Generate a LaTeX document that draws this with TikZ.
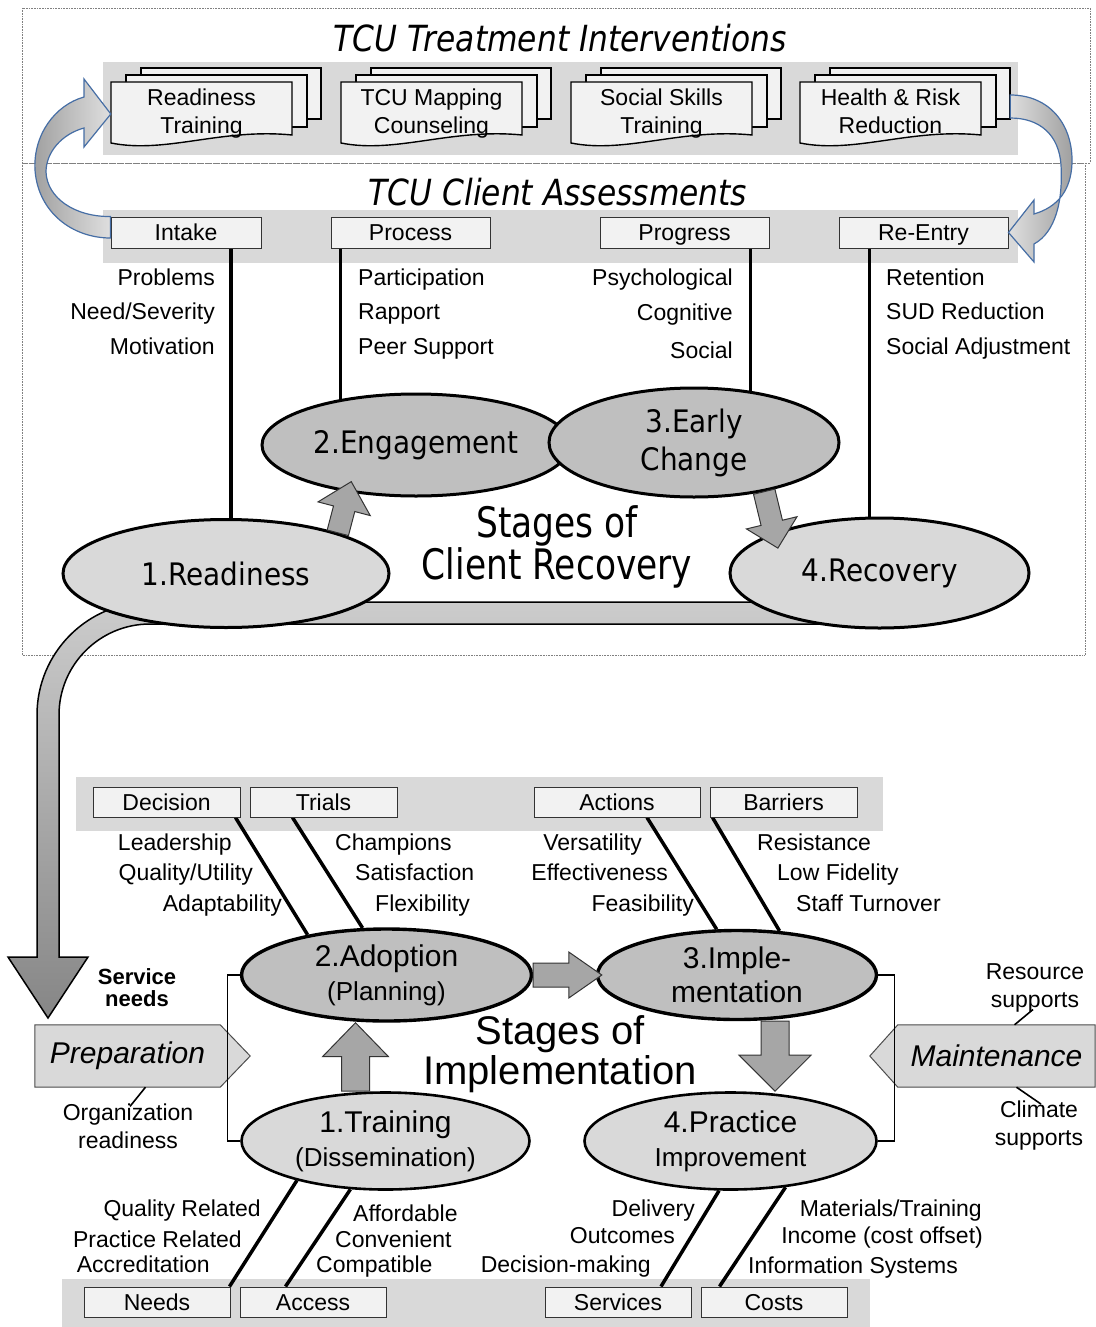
\documentclass[tikz,border=0pt]{standalone}
\usepackage{fontspec}
\setmainfont{Liberation Sans}
\newfontfamily\stagefont[FakeStretch=0.9]{DejaVu Sans}
\newfontfamily\titlefont[FakeStretch=0.82]{DejaVu Sans}
\newfontfamily\headfont[FakeStretch=0.87]{DejaVu Sans}
\usepackage{tikz}
\usetikzlibrary{shapes.geometric, calc, backgrounds}
\definecolor{bandgray}{RGB}{217,217,217}
\definecolor{lightstage}{RGB}{217,217,217}
\definecolor{darkstage}{RGB}{191,191,191}
\definecolor{arrowgray}{RGB}{166,166,166}
\definecolor{pagefill}{RGB}{242,242,242}
\definecolor{bendblue}{RGB}{70,110,165}
\newcommand{\setfs}[2]{\fontsize{#1}{#2}\selectfont}
% stack of three pages with a wavy front page
\newcommand{\docstack}[4]{%
  \draw[docpage] (#2+30,-#3+14) rectangle (#2+210,-#3-37);
  \draw[docpage] (#2+15,-#3+7) rectangle (#2+196,-#3-45);
  \draw[docpage] (#2,-#3) -- (#2+181,-#3) -- (#2+181,-#3-53)
    .. controls (#2+110,-#3-46) and (#2+55,-#3-72) .. (#2,-#3-61) -- cycle;
  \node[doclabel] (#1) at (#2+90.5,-#3-32) {#4};}
% fat block arrow: from, to, shaft half width, head half width, head length
\newcommand{\blockarrow}[5]{%
  \draw[blockfill] let \p1=(#1), \p2=(#2),
      \n1={atan2(\y2-\y1,\x2-\x1)}, \n2={veclen(\x2-\x1,\y2-\y1)-#5} in
    ($(\p1)+(\n1+90:#3)$) -- ($(\p1)+(\n1:\n2)+(\n1+90:#3)$)
    -- ($(\p1)+(\n1:\n2)+(\n1+90:#4)$) -- (\p2)
    -- ($(\p1)+(\n1:\n2)+(\n1-90:#4)$) -- ($(\p1)+(\n1:\n2)+(\n1-90:#3)$)
    -- ($(\p1)+(\n1-90:#3)$) -- cycle;}

\begin{document}
\begin{tikzpicture}[x=1pt, y=1pt,
  band/.style={fill=bandgray},
  dotframe/.style={densely dotted, gray, line width=.6pt},
  docpage/.style={draw=black, line width=1.4pt, fill=pagefill},
  doclabel/.style={align=center, minimum width=181, inner sep=0, font=\setfs{23}{28}},
  tagbox/.style={draw=gray!40!black, fill=pagefill, line width=1pt, inner sep=0,
    minimum height=31, text height=16pt, text depth=0pt, font=\setfs{23}{28}},
  lbl/.style={inner sep=0, font=\setfs{23}{28}},
  stage/.style={ellipse, draw=black, line width=3pt, inner sep=0, align=center},
  toplabel/.style={font=\stagefont\setfs{31}{38}},
  botlabel/.style={font=\setfs{30}{34}},
  stemline/.style={line width=3.5pt},
  leaderline/.style={line width=1.6pt},
  bracketline/.style={line width=1.2pt},
  phasebox/.style={inner sep=0, minimum height=62, font=\itshape\setfs{30}{36}},
  phaseline/.style={draw=gray!60!black, line width=1pt, fill=bandgray},
  blockfill/.style={fill=arrowgray, draw=gray!40!black, line width=1pt},
  bigarrow/.style={draw=black, line width=1.5pt, top color=gray!40, bottom color=gray!95},
  bendarrow/.style={draw=bendblue, line width=1.2pt}]
\useasboundingbox (0,0) rectangle (1095,-1327);

% ---- treatment interventions
\node[font=\headfont\itshape\setfs{36}{40}] (treattitle) at (560,-38) {TCU Treatment Interventions};
\docstack{rtrain}{111}{82}{Readiness\\Training}
\docstack{mapcoun}{341}{82}{TCU Mapping\\Counseling}
\docstack{socskill}{571}{82}{Social Skills\\Training}
\docstack{healthrisk}{800}{82}{Health \& Risk\\Reduction\vphantom{g}}

% ---- client assessments
\node[font=\headfont\itshape\setfs{36}{40}] (assesstitle) at (558,-192) {TCU Client Assessments};
\node[tagbox, minimum width=150] (intake) at (186,-232.5) {Intake};
\node[tagbox, minimum width=159] (process) at (410.5,-232.5) {Process};
\node[tagbox, minimum width=169] (progress) at (684.5,-232.5) {Progress};
\node[tagbox, minimum width=169] (reentry) at (923.5,-232.5) {Re-Entry};

\node[lbl, anchor=base east] (problems) at (215,-285) {Problems};
\node[lbl, anchor=base east] (needsev) at (215,-319.5) {Need/Severity};
\node[lbl, anchor=base east] (motivation) at (215,-354) {Motivation};
\node[lbl, anchor=base west] (particip) at (358,-285) {Participation};
\node[lbl, anchor=base west] (rapport) at (358,-319.5) {Rapport};
\node[lbl, anchor=base west] (peersup) at (358,-354) {Peer Support};
\node[lbl, anchor=base east] (psycho) at (733,-285) {Psychological};
\node[lbl, anchor=base east] (cognitive) at (733,-320) {Cognitive};
\node[lbl, anchor=base east] (social) at (733,-358) {Social};
\node[lbl, anchor=base west] (retention) at (886,-285) {Retention};
\node[lbl, anchor=base west] (sudred) at (886,-319.5) {SUD Reduction};
\node[lbl, anchor=base west] (socadj) at (886,-354) {Social Adjustment};

% ---- stages of client recovery
\node[stage, fill=lightstage, minimum width=326, minimum height=108, toplabel] (readiness) at (226,-573.5) {1.Readiness};
\node[stage, fill=darkstage, minimum width=308, minimum height=102, toplabel] (engagement) at (416,-445) {2.Engagement};
\node[stage, fill=darkstage, minimum width=290, minimum height=109, toplabel] (earlychange) at (694,-442.5) {3.Early\\Change};
\node[stage, fill=lightstage, minimum width=299, minimum height=110, toplabel] (recovery) at (879.5,-573) {4.Recovery};
\node[align=center, font=\titlefont\setfs{42}{42}] (recovtitle) at (557,-547) {Stages of\\Client Recovery};

\coordinate (engtip) at ($(engagement.215)!-11pt!(readiness.20)$);
\blockarrow{readiness.20}{engtip}{11}{27}{28}
\coordinate (rectip) at ($(recovery.159)!-16pt!(earlychange.325)$);
\blockarrow{earlychange.325}{rectip}{11}{26}{26}

% ---- stages of implementation
\node[tagbox, minimum width=147, minimum height=30] (decision) at (166.5,-802) {Decision};
\node[tagbox, minimum width=147, minimum height=30] (trials) at (323.5,-802) {Trials};
\node[tagbox, minimum width=166, minimum height=30] (actions) at (617,-802) {Actions};
\node[tagbox, minimum width=147, minimum height=30] (barriers) at (783.5,-802) {Barriers};

\node[lbl, anchor=base east] (leadership) at (232,-850) {Leadership};
\node[lbl, anchor=base east] (qualutil) at (253,-880) {Quality/Utility};
\node[lbl, anchor=base east] (adaptab) at (282,-911) {Adaptability};
\node[lbl, anchor=base west] (champions) at (335,-850) {Champions};
\node[lbl, anchor=base west] (satisf) at (355,-880) {Satisfaction};
\node[lbl, anchor=base west] (flexib) at (375,-911) {Flexibility};
\node[lbl, anchor=base east] (versat) at (642,-850) {Versatility};
\node[lbl, anchor=base east] (effect) at (668,-880) {Effectiveness};
\node[lbl, anchor=base east] (feasib) at (694,-911) {Feasibility};
\node[lbl, anchor=base west] (resist) at (757,-850) {Resistance};
\node[lbl, anchor=base west] (lowfid) at (777,-880) {Low Fidelity};
\node[lbl, anchor=base west] (staffturn) at (796,-911) {Staff Turnover};

\node[stage, fill=darkstage, line width=3.4pt, minimum width=290, minimum height=92, botlabel] (adoption) at (386.5,-975) {2.Adoption\\{\setfs{26}{30}(Planning)}};
\node[stage, fill=darkstage, line width=3.4pt, minimum width=279, minimum height=89, botlabel] (implementation) at (737,-975) {3.Imple-\\mentation};
\node[stage, fill=lightstage, line width=2.6pt, minimum width=288, minimum height=97, botlabel] (training) at (385.5,-1141) {1.Training\\{\setfs{26}{30}(Dissemination)}};
\node[stage, fill=lightstage, line width=2.6pt, minimum width=292, minimum height=97, botlabel] (practice) at (730.5,-1141) {4.Practice\\{\setfs{26}{30}Improvement}};
\node[align=center, font=\setfs{40}{40}] (impltitle) at (560,-1054) {Stages of\\Implementation};

\coordinate (imptip) at ($(implementation.west)+(6,0)$);
\blockarrow{adoption.east}{imptip |- adoption.east}{12}{23}{33}
\coordinate (trbase) at ($(training.north)+(-30,0)$);
\blockarrow{trbase}{trbase |- adoption.south}{14}{33}{34}
\coordinate (imbase) at ($(implementation.south)+(38,0)$);
\blockarrow{imbase}{imbase |- practice.north}{14}{36}{36}

\node[align=center, font=\bfseries\setfs{22}{22}, inner sep=0] (servneeds) at (137,-988) {Service\\needs};
\node[phasebox, minimum width=185] (preparation) at (127.5,-1056) {Preparation};
\node[phasebox, minimum width=197] (maintenance) at (996.5,-1056) {Maintenance};
\node[lbl, align=center] (orgready) at (128,-1126) {Organization\\readiness};
\node[lbl, align=center] (resource) at (1035,-988) {Resource\\supports};
\node[lbl, align=center] (climate) at (1039,-1126) {Climate\\supports};

\node[tagbox, minimum width=146, minimum height=30] (needs) at (157,-1302) {Needs};
\node[tagbox, minimum width=146, minimum height=30] (access) at (313,-1302) {Access};
\node[tagbox, minimum width=146, minimum height=30] (services) at (618,-1302) {Services};
\node[tagbox, minimum width=146, minimum height=30] (costs) at (774,-1302) {Costs};

\node[lbl, anchor=base east] (qualrel) at (261,-1216) {Quality Related};
\node[lbl, anchor=base east] (pracrel) at (242,-1247) {Practice Related};
\node[lbl, anchor=base east] (accred) at (210,-1272) {Accreditation};
\node[lbl, anchor=base west] (afford) at (353,-1221) {Affordable};
\node[lbl, anchor=base west] (conven) at (335,-1247) {Convenient};
\node[lbl, anchor=base west] (compat) at (316,-1272) {Compatible};
\node[lbl, anchor=base east] (delivery) at (695,-1216) {Delivery};
\node[lbl, anchor=base east] (outcomes) at (675,-1243) {Outcomes};
\node[lbl, anchor=base east] (decmaking) at (651,-1272) {Decision-making};
\node[lbl, anchor=base east] (materials) at (982,-1216) {Materials/Training};
\node[lbl, anchor=base east] (income) at (983,-1243) {Income (cost offset)};
\node[lbl, anchor=base west] (infosys) at (748,-1273) {Information Systems};

% ---- bent arrows between interventions and assessments
\draw[bendarrow, left color=gray!75, right color=gray!25]
  ([yshift=-5.5]intake.west) .. controls (72,-238) and (38,-212) .. (35,-170)
  .. controls (33,-135) and (55,-105) .. (84,-97) -- (84,-79) -- (rtrain.west)
  -- (84,-147) -- (84,-128) .. controls (62,-134) and (46,-152) .. (46,-172)
  .. controls (47,-198) and (75,-217) .. (intake.north west) -- cycle;
\draw[bendarrow, left color=gray!25, right color=gray!75]
  ([xshift=29,yshift=19]healthrisk.east) .. controls (1050,-95) and (1073,-125) .. (1072,-163)
  .. controls (1071,-190) and (1058,-207) .. (1034,-214) -- (1034,-200) -- (reentry.east)
  -- (1034,-262) -- (1034,-244) .. controls (1056,-232) and (1063,-200) .. (1061,-165)
  .. controls (1059,-135) and (1040,-118) .. ([xshift=29,yshift=-4]healthrisk.east) -- cycle;

\coordinate (servtip) at (48,-1018);
\coordinate (ia) at ($(intake.south)+(45,0)$);
\coordinate (pa) at ($(process.south west)+(10,0)$);
\coordinate (ga) at ($(progress.south east)+(-19,0)$);
\coordinate (ra) at ($(reentry.south west)+(31,0)$);

\begin{pgfonlayer}{background}
\fill[white] (0,0) rectangle (1095,-1327);
\draw[dotframe] (22,-8) rectangle (1090,-163);
\draw[dotframe] (22,-163) rectangle (1085,-655);
\fill[band] (103,-62) rectangle (1018,-155);
\fill[band] (103,-210) rectangle (1018,-263);
\fill[band] (76,-777) rectangle (883,-831);
\fill[band] (62,-1279) rectangle (870,-1327);

% big arrow from recovery down to preparation
\draw[bigarrow] (recovery.center |- 0,-602) -- (150,-602) arc[start angle=90, end angle=180, radius=113]
  -- (37,-957) -- (8,-957) -- (servtip) -- (88,-957) -- (59,-957) -- (59,-715)
  arc[start angle=180, end angle=90, radius=91] -- (recovery.center |- 0,-624) -- cycle;

% assessment stems
\draw[stemline] (ia) -- (ia |- readiness.center);
\draw[stemline] (pa) -- (pa |- engagement.center);
\draw[stemline] (ga) -- (ga |- earlychange.center);
\draw[stemline] (ra) -- (ra |- recovery.center);

% implementation stems
\draw[stemline] ($(decision.south east)+(-5,0)$) -- (adoption.153);
\draw[stemline] ($(trials.south west)+(43,0)$) -- (adoption.117);
\draw[stemline] ($(actions.south)+(30,0)$) -- (implementation.114);
\draw[stemline] ($(barriers.south west)+(3,0)$) -- (implementation.46);
\draw[stemline] ($(needs.north east)+(-1,0)$) -- (training.204);
\draw[stemline] ($(access.north west)+(46,0)$) -- (training.234);
\draw[stemline] ($(services.north)+(43,0)$) -- (practice.257);
\draw[stemline] ($(costs.north west)+(19,0)$) -- (practice.320);

% preparation and maintenance
\draw[phaseline] (preparation.north west) -- (preparation.north east) -- ($(preparation.east)+(30,0)$)
  -- (preparation.south east) -- (preparation.south west) -- cycle;
\draw[phaseline] (maintenance.north east) -- (maintenance.north west) -- ($(maintenance.west)+(-28,0)$)
  -- (maintenance.south west) -- (maintenance.south east) -- cycle;
\draw[bracketline] (adoption.west) -- ++(-12,0) |- (training.west);
\draw[bracketline] (implementation.east) -- ++(16,0) |- (practice.east);
\draw[leaderline] ([xshift=18]preparation.south) -- ([xshift=2,yshift=-3]orgready.north);
\draw[leaderline] ([xshift=18]maintenance.north) -- ([xshift=-2,yshift=3]resource.south);
\draw[leaderline] ([xshift=20]maintenance.south) -- ([xshift=2,yshift=-3]climate.north);
\end{pgfonlayer}
\end{tikzpicture}
\end{document}
